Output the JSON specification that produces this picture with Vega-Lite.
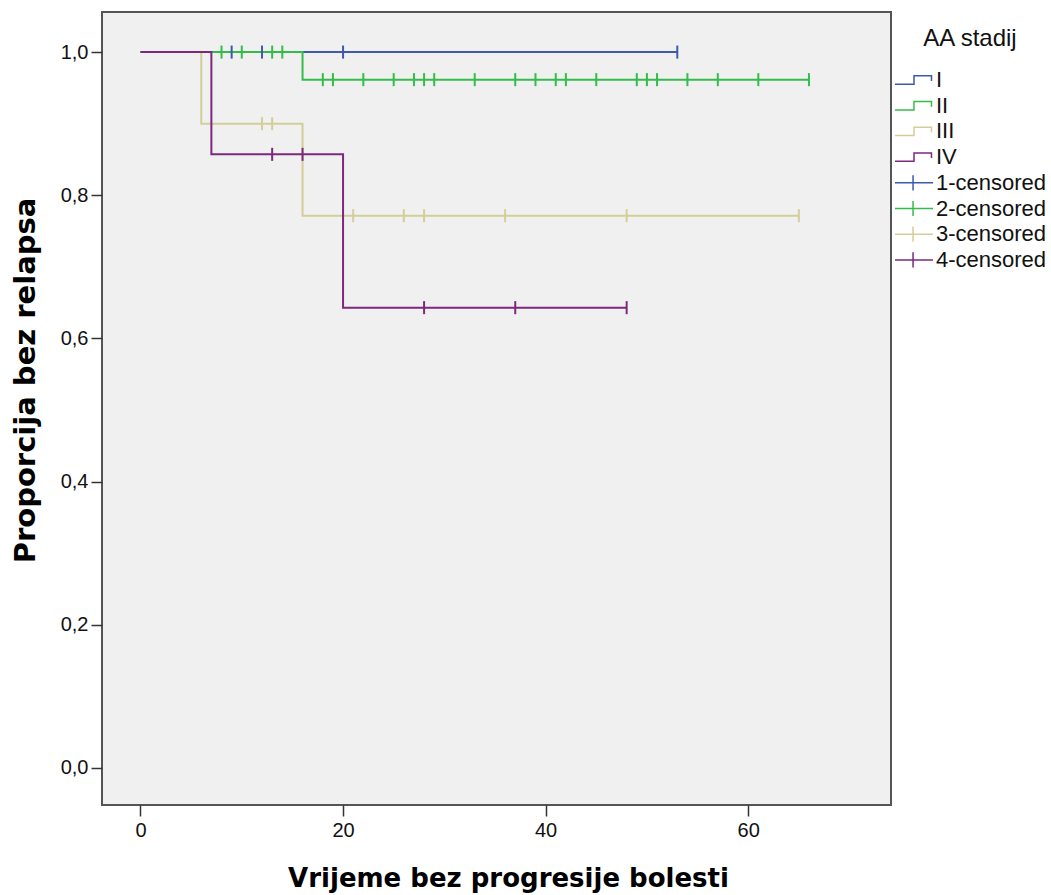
{
  "$schema": "https://vega.github.io/schema/vega-lite/v6.json",
  "width": 789,
  "height": 793,
  "autosize": {"type": "none"},
  "padding": {"left": 102, "top": 12, "right": 160, "bottom": 90},
  "background": "white",
  "config": {
    "view": {"fill": "#f0f0f0", "stroke": "#555555", "strokeWidth": 2},
    "axis": {
      "grid": false,
      "domain": false,
      "tickColor": "#333333",
      "tickSize": 11,
      "tickWidth": 1.5,
      "labelFont": "Liberation Sans",
      "labelFontSize": 20,
      "labelColor": "#111111",
      "titleFont": "DejaVu Sans",
      "titleFontWeight": "bold",
      "titleColor": "#000000"
    }
  },
  "datasets": {
    "curves": [
      {"grp": "I", "t": 0, "s": 1},
      {"grp": "I", "t": 53, "s": 1},
      {"grp": "II", "t": 0, "s": 1},
      {"grp": "II", "t": 16, "s": 0.9615},
      {"grp": "II", "t": 66, "s": 0.9615},
      {"grp": "III", "t": 0, "s": 1},
      {"grp": "III", "t": 6, "s": 0.9},
      {"grp": "III", "t": 16, "s": 0.7714},
      {"grp": "III", "t": 65, "s": 0.7714},
      {"grp": "IV", "t": 0, "s": 1},
      {"grp": "IV", "t": 7, "s": 0.8571},
      {"grp": "IV", "t": 20, "s": 0.6429},
      {"grp": "IV", "t": 48, "s": 0.6429}
    ],
    "censored": [
      {"grp": "1-censored", "t": 9, "s": 1},
      {"grp": "1-censored", "t": 12, "s": 1},
      {"grp": "1-censored", "t": 20, "s": 1},
      {"grp": "1-censored", "t": 53, "s": 1},
      {"grp": "2-censored", "t": 8, "s": 1},
      {"grp": "2-censored", "t": 10, "s": 1},
      {"grp": "2-censored", "t": 13, "s": 1},
      {"grp": "2-censored", "t": 14, "s": 1},
      {"grp": "2-censored", "t": 18, "s": 0.9615},
      {"grp": "2-censored", "t": 19, "s": 0.9615},
      {"grp": "2-censored", "t": 22, "s": 0.9615},
      {"grp": "2-censored", "t": 25, "s": 0.9615},
      {"grp": "2-censored", "t": 27, "s": 0.9615},
      {"grp": "2-censored", "t": 28, "s": 0.9615},
      {"grp": "2-censored", "t": 29, "s": 0.9615},
      {"grp": "2-censored", "t": 33, "s": 0.9615},
      {"grp": "2-censored", "t": 37, "s": 0.9615},
      {"grp": "2-censored", "t": 39, "s": 0.9615},
      {"grp": "2-censored", "t": 41, "s": 0.9615},
      {"grp": "2-censored", "t": 42, "s": 0.9615},
      {"grp": "2-censored", "t": 45, "s": 0.9615},
      {"grp": "2-censored", "t": 49, "s": 0.9615},
      {"grp": "2-censored", "t": 50, "s": 0.9615},
      {"grp": "2-censored", "t": 51, "s": 0.9615},
      {"grp": "2-censored", "t": 54, "s": 0.9615},
      {"grp": "2-censored", "t": 57, "s": 0.9615},
      {"grp": "2-censored", "t": 61, "s": 0.9615},
      {"grp": "2-censored", "t": 66, "s": 0.9615},
      {"grp": "3-censored", "t": 12, "s": 0.9},
      {"grp": "3-censored", "t": 13, "s": 0.9},
      {"grp": "3-censored", "t": 21, "s": 0.7714},
      {"grp": "3-censored", "t": 26, "s": 0.7714},
      {"grp": "3-censored", "t": 28, "s": 0.7714},
      {"grp": "3-censored", "t": 36, "s": 0.7714},
      {"grp": "3-censored", "t": 48, "s": 0.7714},
      {"grp": "3-censored", "t": 65, "s": 0.7714},
      {"grp": "4-censored", "t": 13, "s": 0.8571},
      {"grp": "4-censored", "t": 16, "s": 0.8571},
      {"grp": "4-censored", "t": 28, "s": 0.6429},
      {"grp": "4-censored", "t": 37, "s": 0.6429},
      {"grp": "4-censored", "t": 48, "s": 0.6429}
    ]
  },
  "layer": [
    {
      "data": {"name": "curves"},
      "mark": {"type": "line", "interpolate": "step-after", "strokeWidth": 2},
      "encoding": {
        "x": {
          "field": "t", "type": "quantitative",
          "scale": {"domain": [-3.8, 74.1], "nice": false, "zero": false},
          "axis": {"values": [0, 20, 40, 60], "title": "Vrijeme bez progresije bolesti", "titleFontSize": 26, "titlePadding": 25, "titleX": 406, "labelPadding": 4}
        },
        "y": {
          "field": "s", "type": "quantitative",
          "scale": {"domain": [-0.052, 1.056], "nice": false, "zero": false},
          "axis": {"values": [0, 0.2, 0.4, 0.6, 0.8, 1.0], "labelExpr": "replace(format(datum.value, '.1f'), '.', ',')", "title": "Proporcija bez relapsa", "titleFontSize": 29, "titlePadding": 20, "titleY": 368, "labelPadding": 3}
        },
        "color": {
          "field": "grp", "type": "nominal",
          "scale": {
            "domain": ["I", "II", "III", "IV", "1-censored", "2-censored", "3-censored", "4-censored"],
            "range": ["#3e58ac", "#34bc4a", "#d3ce97", "#7c287d", "#3e58ac", "#34bc4a", "#d3ce97", "#7c287d"]
          },
          "legend": {
            "title": "AA stadij",
            "orient": "none",
            "legendX": 792,
            "legendY": 15,
            "padding": 0,
            "titleAnchor": "middle",
            "titleFont": "Liberation Sans",
            "titleFontSize": 24,
            "titleFontWeight": "normal",
            "titleColor": "#111111",
            "titlePadding": 18,
            "labelFont": "Liberation Sans",
            "labelFontSize": 22,
            "labelColor": "#111111",
            "symbolSize": 1444,
            "symbolStrokeWidth": 1.5,
            "labelOffset": 2,
            "clipHeight": 22,
            "rowPadding": 3.7,
            "encode": {
              "symbols": {
                "update": {
                  "shape": {"signal": "indexof(['I','II','III','IV'], datum.value) >= 0 ? 'M-1,0.22L0,0.22L0,-0.22L0.92,-0.22L0.92,0.05' : 'M-1,0L1,0M-0.05,-0.4L-0.05,0.4'"},
                  "fill": {"value": "transparent"},
                  "strokeWidth": {"value": 1.5}
                }
              }
            }
          }
        }
      }
    },
    {
      "data": {"name": "censored"},
      "mark": {"type": "point", "shape": "M0,-1L0,1", "size": 170, "strokeWidth": 2, "filled": false, "opacity": 1},
      "encoding": {
        "x": {"field": "t", "type": "quantitative"},
        "y": {"field": "s", "type": "quantitative"},
        "color": {"field": "grp", "type": "nominal"}
      }
    }
  ]
}
